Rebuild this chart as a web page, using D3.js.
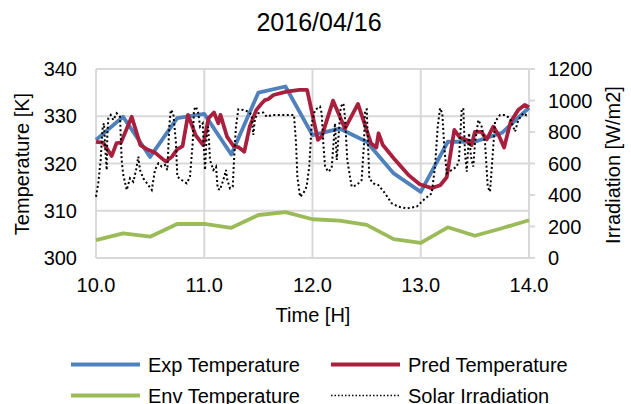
<!DOCTYPE html>
<html><head><meta charset="utf-8">
<script src="https://cdn.jsdelivr.net/npm/d3@7"></script>
<style>html,body{margin:0;padding:0;background:#fff;}svg{display:block;font-family:"Liberation Sans",Arial,sans-serif;}</style>
</head><body>
<svg id="c" width="631" height="404"></svg>
<script>
const title = "2016/04/16";
const xTicks = [10, 11, 12, 13, 14];
const yLeftTicks = [300, 310, 320, 330, 340];
const yRightTicks = [0, 200, 400, 600, 800, 1000, 1200];

const quarterTimes = [10,10.25,10.5,10.75,11,11.25,11.5,11.75,12,12.25,12.5,12.75,13,13.25,13.5,13.75,14];
const expTemp = [325.0,329.9,321.4,329.6,330.5,321.9,335.0,336.3,326.0,327.4,324.6,317.9,314.0,324.6,324.6,326.5,331.8];
const envTemp = [303.8,305.2,304.5,307.2,307.2,306.4,309.1,309.7,308.2,307.9,307.0,304.0,303.2,306.5,304.7,306.3,308.0];

const predTime = [10.00,10.067,10.145,10.19,10.23,10.33,10.41,10.48,10.545,10.645,10.70,10.75,10.80,10.85,10.92,10.99,11.04,11.09,11.13,11.15,11.21,11.27,11.32,11.37,11.42,11.48,11.53,11.56,11.59,11.64,11.76,11.88,11.95,12.05,12.085,12.19,12.30,12.42,12.54,12.59,12.61,12.65,12.75,12.885,12.99,13.10,13.18,13.24,13.31,13.36,13.42,13.47,13.50,13.56,13.61,13.67,13.72,13.77,13.83,13.90,13.96,14.00];
const predTemp = [324.6,324.4,321.6,324.3,324.4,329.9,323.9,322.9,322.3,320.4,321.4,323.0,323.7,330.3,326.0,323.9,329.6,330.8,328.5,330.3,325.7,323.7,323.4,322.5,327.8,331.3,332.7,333.4,333.6,334.5,335.2,335.6,335.6,325.0,325.7,333.3,327.4,332.6,324.3,323.4,326.4,323.9,321.1,317.6,315.6,314.8,315.4,317.1,327.1,325.5,325.0,323.9,326.7,326.7,325.1,327.8,326.0,323.4,328.8,331.3,332.4,331.9];

const solarTime = [10.000,10.021,10.043,10.062,10.074,10.086,10.099,10.104,10.114,10.136,10.160,10.191,10.222,10.237,10.252,10.284,10.314,10.345,10.370,10.391,10.406,10.437,10.483,10.515,10.545,10.576,10.607,10.637,10.659,10.677,10.690,10.714,10.739,10.751,10.792,10.838,10.868,10.893,10.905,10.924,10.945,10.961,10.986,11.007,11.022,11.037,11.053,11.084,11.109,11.124,11.145,11.176,11.201,11.213,11.238,11.263,11.275,11.293,11.315,11.361,11.407,11.438,11.453,11.469,11.499,11.546,11.577,11.623,11.700,11.792,11.829,11.848,11.860,11.885,11.915,11.946,11.970,11.993,12.023,12.069,12.085,12.100,12.116,12.146,12.177,12.208,12.224,12.261,12.285,12.300,12.321,12.362,12.408,12.454,12.476,12.485,12.501,12.516,12.525,12.562,12.608,12.670,12.732,12.793,12.870,12.963,13.039,13.101,13.132,13.157,13.178,13.199,13.217,13.240,13.286,13.332,13.353,13.378,13.393,13.409,13.425,13.446,13.464,13.485,13.501,13.532,13.563,13.594,13.619,13.640,13.661,13.686,13.732,13.778,13.824,13.871,13.901,13.947,13.994];
const solarIrr = [389,474,622,834,855,686,559,770,887,908,876,919,897,622,527,432,506,484,559,643,559,506,463,432,559,601,580,590,559,834,940,919,728,516,495,474,516,728,940,961,919,834,855,559,770,834,622,559,580,442,432,495,559,495,442,453,622,834,944,940,929,908,781,887,919,923,897,908,908,908,908,728,516,389,410,453,580,855,940,961,919,728,580,548,569,855,622,961,982,897,622,453,463,495,728,940,944,665,506,474,463,410,347,326,315,326,377,410,580,834,951,919,707,538,559,580,622,940,951,665,548,792,643,580,728,876,834,728,452,421,622,865,908,908,887,802,876,919,897];

const legendItems = ["Exp Temperature", "Pred Temperature", "Env Temperature", "Solar Irradiation"];

const colors = {exp:"#4f81bd", pred:"#a9203e", env:"#9bbb59", solar:"#000"};

const svg = d3.select("#c");
const L = 96, R = 529, T = 69, B = 258;
const x = d3.scaleLinear().domain([10,14]).range([L,R]);
const yL = d3.scaleLinear().domain([300,340]).range([B,T]);
const yR = d3.scaleLinear().domain([0,1200]).range([B,T]);
const grid = "#d9d9d9";

// grid
svg.append("g").selectAll("line").data(yLeftTicks).join("line")
  .attr("x1",L).attr("x2",R).attr("y1",d=>yL(d)).attr("y2",d=>yL(d))
  .attr("stroke",grid).attr("stroke-width",2);
svg.append("g").selectAll("line").data(xTicks).join("line")
  .attr("x1",d=>x(d)).attr("x2",d=>x(d)).attr("y1",T).attr("y2",B)
  .attr("stroke",grid).attr("stroke-width",2);
// right ticks
svg.append("g").selectAll("line").data(yRightTicks).join("line")
  .attr("x1",R).attr("x2",R+6).attr("y1",d=>yR(d)).attr("y2",d=>yR(d))
  .attr("stroke",grid).attr("stroke-width",2);

// tick labels
const fs = 20;
svg.append("g").selectAll("text").data(yLeftTicks).join("text")
  .attr("x",77).attr("y",d=>yL(d)).attr("dy","0.36em").attr("text-anchor","end")
  .attr("font-size",fs).text(d=>d);
svg.append("g").selectAll("text").data(yRightTicks).join("text")
  .attr("x",548).attr("y",d=>yR(d)).attr("dy","0.36em").attr("text-anchor","start")
  .attr("font-size",fs).text(d=>d);
svg.append("g").selectAll("text").data(xTicks).join("text")
  .attr("x",d=>x(d)).attr("y",292).attr("text-anchor","middle")
  .attr("font-size",fs).text(d=>d3.format(".1f")(d));

// axis titles
svg.append("text").attr("x",313).attr("y",322).attr("text-anchor","middle").attr("font-size",fs).text("Time [H]");
svg.append("text").attr("transform","translate(29,164) rotate(-90)").attr("text-anchor","middle").attr("font-size",fs).text("Temperature [K]");
svg.append("text").attr("transform","translate(620,165) rotate(-90)").attr("text-anchor","middle").attr("font-size",fs).text("Irradiation [W/m2]");
svg.append("text").attr("x",319).attr("y",30.5).attr("text-anchor","middle").attr("font-size",25).text(title);

// series
const lineL = d3.line().x(d=>x(d[0])).y(d=>yL(d[1]));
const lineR = d3.line().x(d=>x(d[0])).y(d=>yR(d[1]));
const zip = (a,b)=>a.map((v,i)=>[v,b[i]]);

svg.append("path").attr("d",lineL(zip(quarterTimes,expTemp))).attr("fill","none")
  .attr("stroke",colors.exp).attr("stroke-width",3.8).attr("stroke-linejoin","round");
svg.append("path").attr("d",lineL(zip(predTime,predTemp))).attr("fill","none")
  .attr("stroke",colors.pred).attr("stroke-width",3.8).attr("stroke-linejoin","round");
svg.append("path").attr("d",lineL(zip(quarterTimes,envTemp))).attr("fill","none")
  .attr("stroke",colors.env).attr("stroke-width",3.8).attr("stroke-linejoin","round");
svg.append("path").attr("d",lineR(zip(solarTime,solarIrr))).attr("fill","none")
  .attr("stroke",colors.solar).attr("stroke-width",2).attr("stroke-dasharray","2,2.5");

// legend
const leg = [
  {name:legendItems[0], c:colors.exp, dash:null, w:4, x:71, y:372},
  {name:legendItems[1], c:colors.pred, dash:null, w:4, x:331, y:372},
  {name:legendItems[2], c:colors.env, dash:null, w:4, x:71, y:403},
  {name:legendItems[3], c:colors.solar, dash:"1.5,2", w:1.5, x:331, y:403}
];
const lg = svg.append("g").selectAll("g").data(leg).join("g");
lg.append("line").attr("x1",d=>d.x).attr("x2",d=>d.x+69).attr("y1",d=>d.y-7.5).attr("y2",d=>d.y-7.5)
  .attr("stroke",d=>d.c).attr("stroke-width",d=>d.w).attr("stroke-dasharray",d=>d.dash);
lg.append("text").attr("x",d=>d.x+77).attr("y",d=>d.y).attr("font-size",fs).text(d=>d.name);
</script>
</body></html>
